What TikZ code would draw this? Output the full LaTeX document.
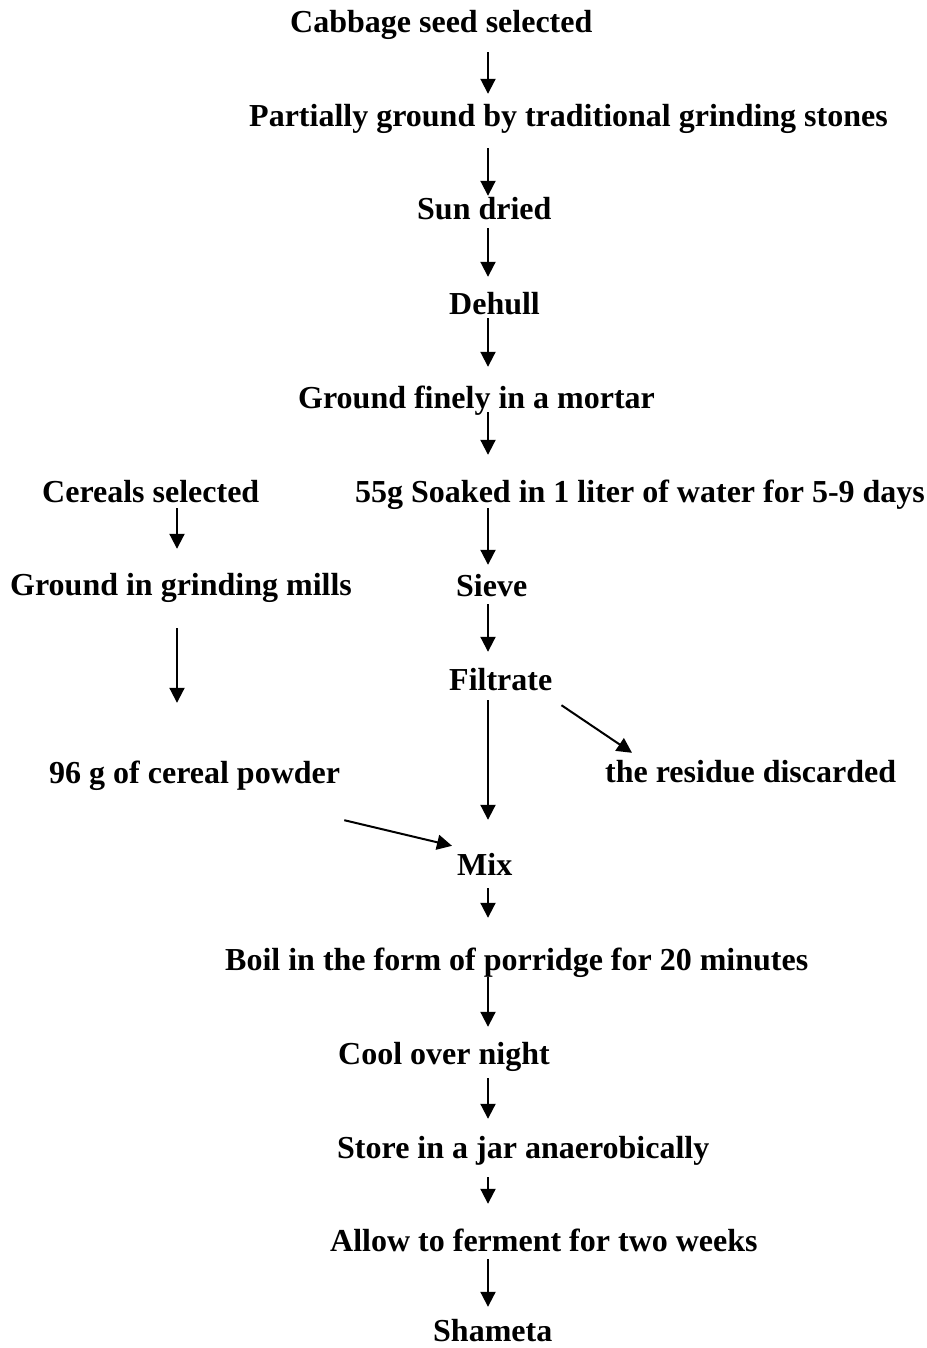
\documentclass[tikz,border=0pt]{standalone}
\usepackage{fontspec}
\setmainfont{Liberation Serif}
\usetikzlibrary{arrows.meta,calc}
\begin{document}
\begin{tikzpicture}[x=1pt,y=-1pt,
  lbl/.style={anchor=base west,inner sep=0pt,text height=22pt,text depth=7pt,
    font=\fontsize{32}{38}\selectfont\bfseries},
  arr/.style={line width=2pt,-{Triangle[length=15pt,width=15pt]}}]
\useasboundingbox (0,0) rectangle (926,1348);
\coordinate (sp) at (488,0);
\coordinate (lp) at (177,0);
% main column
\node[lbl] (cab) at (290,33) {Cabbage seed selected};
\node[lbl] (par) at (249,127) {Partially ground by traditional grinding stones};
\node[lbl] (sun) at (417,220) {Sun dried};
\node[lbl] (deh) at (449,314) {Dehull};
\node[lbl] (gfm) at (298,408) {Ground finely in a mortar};
\node[lbl] (soa) at (355,502) {55g Soaked in 1 liter of water for 5-9 days};
\node[lbl] (sie) at (456,596) {Sieve};
\node[lbl] (fil) at (449,690) {Filtrate};
\node[lbl] (res) at (605,782) {the residue discarded};
\node[lbl] (mix) at (457,875) {Mix};
\node[lbl] (boi) at (225,970) {Boil in the form of porridge for 20 minutes};
\node[lbl] (coo) at (338,1064) {Cool over night};
\node[lbl] (sto) at (337,1158) {Store in a jar anaerobically};
\node[lbl] (all) at (330,1251) {Allow to ferment for two weeks};
\node[lbl,text depth=0pt] (sha) at (433,1341) {Shameta};
% cereal column
\node[lbl] (cer) at (42,502) {Cereals selected};
\node[lbl] (gim) at (10,595) {Ground in grinding mills};
\node[lbl] (pow) at (49,783) {96 g of cereal powder};
% arrows
\draw[arr] ($(cab.south -| sp)+(0,12)$) -- ($(par.north -| sp)+(0,-11)$);
\draw[arr] ($(par.south -| sp)+(0,14)$) -- ($(sun.north -| sp)+(0,-2)$);
\draw[arr] ($(sun.south -| sp)+(0,1)$) -- ($(deh.north -| sp)+(0,-15)$);
\draw[arr] ($(deh.south -| sp)+(0,-3)$) -- ($(gfm.north -| sp)+(0,-19)$);
\draw[arr] ($(gfm.south -| sp)+(0,-3)$) -- ($(soa.north -| sp)+(0,-25)$);
\draw[arr] ($(soa.south -| sp)+(0,-1)$) -- ($(sie.north -| sp)+(0,-9)$);
\draw[arr] ($(sie.south -| sp)+(0,1)$) -- ($(fil.north -| sp)+(0,-16)$);
\draw[arr] ($(fil.south -| sp)+(0,3)$) -- ($(mix.north -| sp)+(0,-33)$);
\draw[arr] ($(fil.south east)+(9,8)$) -- ($(res.north west)+(27,-7)$);
\draw[arr] ($(cer.south -| lp)+(0,-1)$) -- ($(gim.north -| lp)+(0,-24)$);
\draw[arr] ($(gim.south -| lp)+(0,26)$) -- ($(pow.north -| lp)+(0,-58)$);
\draw[arr] ($(pow.south east)+(4,30)$) -- ($(mix.north west)+(-5,-7)$);
\draw[arr] ($(mix.south -| sp)+(0,6)$) -- ($(boi.north -| sp)+(0,-30)$);
\draw[arr] ($(boi.south -| sp)+(0,0)$) -- ($(coo.north -| sp)+(0,-15)$);
\draw[arr] ($(coo.south -| sp)+(0,7)$) -- ($(sto.north -| sp)+(0,-17)$);
\draw[arr] ($(sto.south -| sp)+(0,12)$) -- ($(all.north -| sp)+(0,-25)$);
\draw[arr] ($(all.south -| sp)+(0,1)$) -- ($(sha.north -| sp)+(0,-12)$);
\end{tikzpicture}
\end{document}
